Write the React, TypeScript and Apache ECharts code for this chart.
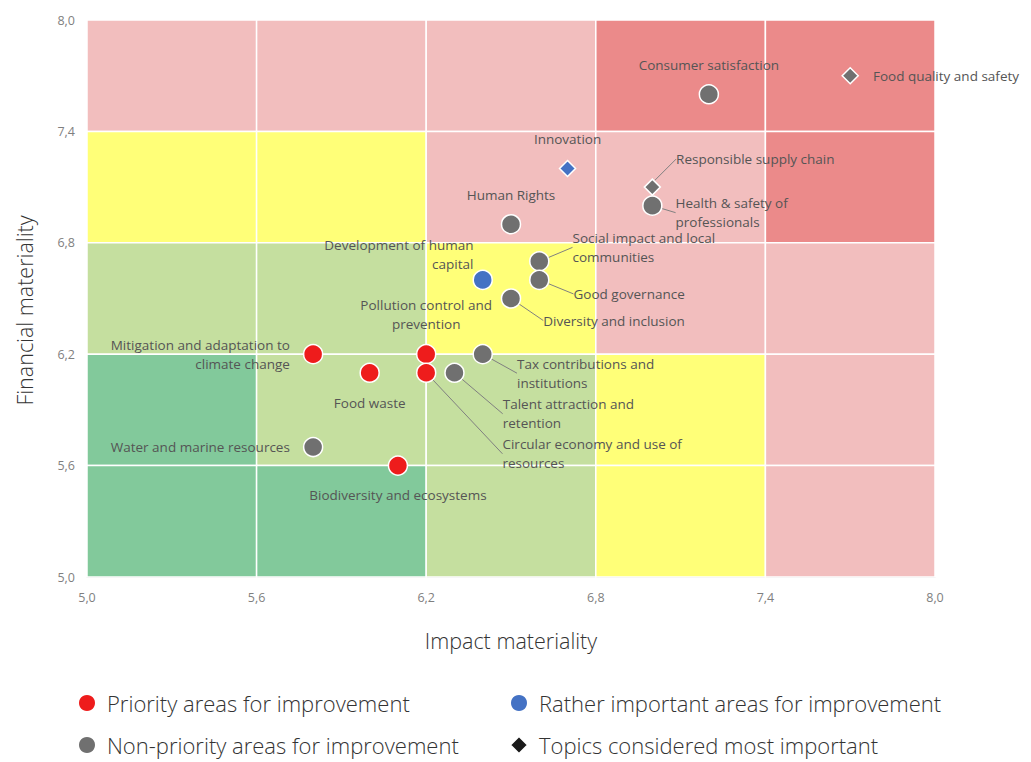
import React, { useEffect, useRef } from "react";
import * as echarts from "echarts";

// ---------- data ----------
const topics = [
  "Consumer satisfaction",
  "Food quality and safety",
  "Innovation",
  "Responsible supply chain",
  "Health & safety of\nprofessionals",
  "Human Rights",
  "Development of human\ncapital",
  "Social impact and local\ncommunities",
  "Good governance",
  "Diversity and inclusion",
  "Pollution control and\nprevention",
  "Mitigation and adaptation to\nclimate change",
  "Food waste",
  "Water and marine resources",
  "Biodiversity and ecosystems",
  "Tax contributions and\ninstitutions",
  "Talent attraction and\nretention",
  "Circular economy and use of\nresources",
];
const impact = [7.2, 7.7, 6.7, 7.0, 7.0, 6.5, 6.4, 6.6, 6.6, 6.5, 6.2, 5.8, 6.0, 5.8, 6.1, 6.4, 6.3, 6.2];
const financial = [7.6, 7.7, 7.2, 7.1, 7.0, 6.9, 6.6, 6.7, 6.6, 6.5, 6.2, 6.2, 6.1, 5.7, 5.6, 6.2, 6.1, 6.1];
// p = priority, r = rather important, n = non-priority
const groups = ["n", "n", "r", "n", "n", "n", "r", "n", "n", "n", "p", "p", "p", "n", "p", "n", "n", "p"];
const mostImportant = [false, true, true, true, false, false, false, false, false, false, false, false, false, false, false, false, false, false];

const axisTicks = [5.0, 5.6, 6.2, 6.8, 7.4, 8.0];
// background zones, rows from top (7.4-8.0) to bottom (5.0-5.6), columns left to right
const zoneRows = [
  ["pink", "pink", "pink", "red", "red"],
  ["yellow", "yellow", "pink", "pink", "red"],
  ["lightgreen", "lightgreen", "yellow", "pink", "pink"],
  ["green", "lightgreen", "lightgreen", "yellow", "pink"],
  ["green", "green", "lightgreen", "yellow", "pink"],
];

const legendNames = [
  "Priority areas for improvement",
  "Rather important areas for improvement",
  "Non-priority areas for improvement",
  "Topics considered most important",
];

// ---------- styles ----------
const zoneColors: Record<string, string> = {
  pink: "#F2BEBE",
  red: "#EB8A8A",
  yellow: "#FFFF78",
  lightgreen: "#C5DF9F",
  green: "#82C99B",
};
const groupColors: Record<string, string> = { p: "#EE1C1C", r: "#4472C4", n: "#707070" };

// label placement: [position, distance, dx, dy, line]
const labelPlace: [string, number, number, number, boolean][] = [
  ["top", 10, 0, 0, false],
  ["right", 14, 0, 0, false],
  ["top", 11, 0, 0, false],
  ["right", 5, 10, -28, true],
  ["right", 5, 8, 7, true],
  ["top", 9, 0, 0, false],
  ["left", 5, 6, -25, false],
  ["right", 5, 18, -14, true],
  ["right", 5, 19, 14, true],
  ["right", 5, 17, 22, true],
  ["top", 10, 0, 0, false],
  ["left", 13, 0, 0, false],
  ["bottom", 10, 0, 0, false],
  ["left", 13, 0, 0, false],
  ["bottom", 10, 0, 0, false],
  ["right", 5, 19, 19, true],
  ["right", 5, 33, 41, true],
  ["right", 5, 61, 81, true],
];

const fmt = (v: number) => v.toFixed(1).replace(".", ",");

export default function App() {
  const ref = useRef<HTMLDivElement>(null);
  useEffect(() => {
    if (!ref.current) return;
    const chart = echarts.init(ref.current, undefined, { renderer: "svg" });

    const areas: any[] = [];
    zoneRows.forEach((row, ri) => {
      row.forEach((z, ci) => {
        const y1 = axisTicks[axisTicks.length - 1 - ri];
        const y0 = axisTicks[axisTicks.length - 2 - ri];
        areas.push([
          { coord: [axisTicks[ci], y0], itemStyle: { color: zoneColors[z] } },
          { coord: [axisTicks[ci + 1], y1] },
        ]);
      });
    });

    const makeItem = (i: number) => {
      const [pos, dist, , , line] = labelPlace[i];
      const align = pos === "left" ? "right" : pos === "right" ? "left" : "center";
      return {
        value: [impact[i], financial[i]],
        name: topics[i],
        symbol: mostImportant[i] ? "diamond" : "circle",
        symbolSize: mostImportant[i] ? 16 : 19,
        itemStyle: { color: groupColors[groups[i]] },
        label: { show: true, position: pos, distance: dist, align },
        labelLine: { show: line },
      };
    };

    const seriesIdx: number[][] = [[], [], [], []];
    topics.forEach((_, i) => {
      if (mostImportant[i]) seriesIdx[3].push(i);
      else if (groups[i] === "p") seriesIdx[0].push(i);
      else if (groups[i] === "r") seriesIdx[1].push(i);
      else seriesIdx[2].push(i);
    });
    const seriesColors = [groupColors.p, groupColors.r, groupColors.n, "#1A1A1A"];

    const labelFont = {
      fontFamily: "Open Sans",
      fontSize: 13.5,
      color: "#555555",
      lineHeight: 19,
      formatter: "{b}",
    };

    const scatterSeries = legendNames.map((name, s) => ({
      type: "scatter",
      name,
      z: 3,
      itemStyle: { color: seriesColors[s], borderColor: "#ffffff", borderWidth: 1.5, opacity: 1 },
      emphasis: { disabled: true },
      label: { ...labelFont },
      labelLine: { lineStyle: { color: "#808080", width: 1 }, length2: 0 },
      labelLayout: (p: any) => {
        const i = seriesIdx[s][p.dataIndex];
        if (i === undefined) return {};
        return { dx: labelPlace[i][2], dy: labelPlace[i][3] };
      },
      data: seriesIdx[s].map((i) => makeItem(i)),
    }));

    const legendLefts = [77, 509, 77, 509];
    const legendTops = [692, 692, 734, 734];
    const legends = legendNames.map((n, k) => ({
      left: legendLefts[k],
      top: legendTops[k],
      data: [{ name: n, icon: k === 3 ? "diamond" : "circle" }],
      itemWidth: 18,
      itemHeight: 18,
      itemGap: 10,
      padding: 0,
      selectedMode: false,
      textStyle: {
        fontFamily: "Open Sans",
        fontWeight: 300,
        fontSize: 22,
        lineHeight: 20,
        color: "#333333",
        padding: [0, 0, 0, 6],
      },
    }));

    const titleStyle = { fontFamily: "Open Sans", fontWeight: 300, fontSize: 21.5, color: "#333333" };

    chart.setOption({
      animation: false,
      backgroundColor: "#ffffff",
      grid: { left: 87, right: 96, top: 20, bottom: 185 },
      legend: legends,
      xAxis: {
        type: "value",
        min: 5,
        max: 8,
        name: "Impact materiality",
        nameLocation: "middle",
        nameGap: 52,
        nameTextStyle: titleStyle,
        axisLine: { show: true, lineStyle: { color: "#D9D9D9" } },
        axisTick: { show: false },
        splitLine: { show: false },
        axisLabel: {
          customValues: axisTicks,
          formatter: (v: number) => fmt(v),
          fontFamily: "Open Sans",
          fontSize: 12.5,
          color: "#7F7F7F",
          margin: 14,
        },
      },
      yAxis: {
        type: "value",
        min: 5,
        max: 8,
        name: "Financial materiality",
        nameLocation: "middle",
        nameGap: 52,
        nameRotate: 90,
        nameTextStyle: { ...titleStyle, padding: [0, 24, 0, 0] },
        axisLine: { show: false },
        axisTick: { show: false },
        splitLine: { show: false },
        axisLabel: {
          customValues: axisTicks,
          formatter: (v: number) => fmt(v),
          fontFamily: "Open Sans",
          fontSize: 12.5,
          color: "#7F7F7F",
          margin: 12,
        },
      },
      series: [
        {
          type: "scatter",
          name: "zones",
          data: [],
          silent: true,
          z: 1,
          markArea: {
            silent: true,
            itemStyle: { borderColor: "#ffffff", borderWidth: 1.5 },
            data: areas,
          },
        },
        ...scatterSeries,
      ],
    });
    return () => chart.dispose();
  }, []);
  return <div ref={ref} style={{ width: 1031, height: 762, marginLeft: -8, marginTop: -8 }} />;
}
